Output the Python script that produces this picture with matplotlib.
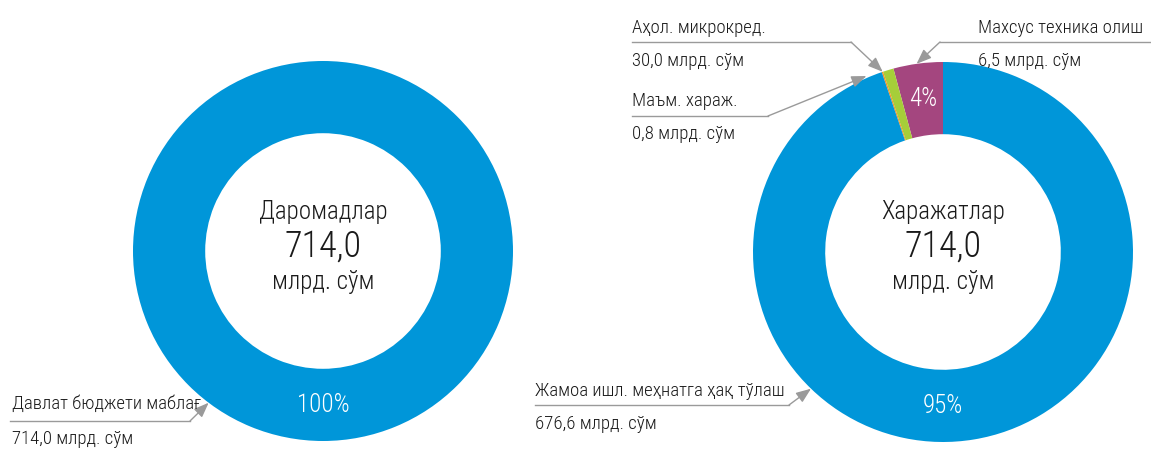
import matplotlib
matplotlib.use("Agg")
import matplotlib.pyplot as plt
from matplotlib.lines import Line2D
import numpy as np

plt.rcParams['font.family'] = ['Roboto Condensed', 'Open Sans Condensed', 'DejaVu Sans']
plt.rcParams['font.stretch'] = 'condensed'
plt.rcParams['font.weight'] = 'light'

# --- data -------------------------------------------------------------
income_title = "Даромадлар"
income_total = 714.0
income_names = ["Давлат бюджети маблағ"]
income_values = [714.0]

expense_title = "Харажатлар"
expense_total = 714.0
# wedge order (counter-clockwise from the top)
expense_names = ["Аҳол. микрокред.", "Махсус техника олиш", "Маъм. хараж.",
                 "Жамоа ишл. меҳнатга ҳақ тўлаш"]
expense_values = [30.0, 6.5, 0.8, 676.6]

unit = "млрд. сўм"

# --- style ------------------------------------------------------------
BLUE = "#0096D9"
PURPLE = "#A4467F"
GREEN = "#A6CE39"
ORANGE = "#F7941D"
GRAY = "#9A9A9A"
TEXT = "#1a1a1a"
expense_colors = [PURPLE, GREEN, ORANGE, BLUE]

W, H = 1151, 450
fig = plt.figure(figsize=(W / 100, H / 100), dpi=100)
fig.patch.set_facecolor("white")


def fx(x):
    return x / W


def fy(y):
    return 1 - y / H


def fmt(v):
    return f"{v:.1f}".replace(".", ",")


def donut(cx, cy, r, values, colors):
    ax = fig.add_axes([(cx - r) / W, (H - cy - r) / H, 2 * r / W, 2 * r / H])
    ax.pie(values, colors=colors, startangle=90, counterclock=True, radius=1,
           wedgeprops=dict(width=0.38, edgecolor="none", linewidth=0))
    ax.set_xlim(-1, 1)
    ax.set_ylim(-1, 1)
    ax.axis("off")
    return ax


def center_text(cx, title, total):
    fig.text(fx(cx), fy(219), title, ha="center", va="baseline", fontsize=18, color=TEXT)
    fig.text(fx(cx), fy(257), fmt(total), ha="center", va="baseline", fontsize=26, color=TEXT)
    fig.text(fx(cx), fy(289), unit, ha="center", va="baseline", fontsize=18, color=TEXT)


def pct_label(ax, angle_deg, text, radius=0.81):
    a = np.deg2rad(angle_deg)
    ax.text(radius * np.cos(a), radius * np.sin(a), text, ha="center", va="center",
            fontsize=18, color="white")


def callout(ax, name, value, tx, base1, base2, line_x0, line_x1, line_y, elbow_x, tip_angle,
            tip_r=1.0):
    fig.text(fx(tx), fy(base1), name, ha="left", va="baseline", fontsize=13.5, color=TEXT)
    fig.text(fx(tx), fy(base2), f"{fmt(value)} {unit}", ha="left", va="baseline",
             fontsize=13.5, color=TEXT)
    fig.add_artist(Line2D([fx(line_x0), fx(line_x1)], [fy(line_y), fy(line_y)],
                          color=GRAY, lw=1.0, transform=fig.transFigure))
    a = np.deg2rad(tip_angle)
    ax.annotate("", xy=(tip_r * np.cos(a), tip_r * np.sin(a)), xycoords="data",
                xytext=(fx(elbow_x), fy(line_y)), textcoords="figure fraction",
                arrowprops=dict(arrowstyle="-|>,head_length=0.9,head_width=0.35",
                                color=GRAY, lw=1.0, shrinkA=0, shrinkB=0),
                annotation_clip=False)


# --- left donut: income -------------------------------------------------
axL = donut(323, 251, 190, income_values, [BLUE])
center_text(323, income_title, income_total)
pct_label(axL, 270, f"{income_values[0] / income_total * 100:.0f}%")
callout(axL, income_names[0], income_values[0], 12, 409, 444,
        10, 190, 421, 190, 233)

# --- right donut: expenses ----------------------------------------------
axR = donut(943, 252, 190, expense_values, expense_colors)
center_text(943, expense_title, expense_total)
pct_label(axR, 270, f"{expense_values[3] / expense_total * 100:.0f}%")
purple_mid = 90 + expense_values[0] / expense_total * 360 / 2
pct_label(axR, purple_mid, f"{expense_values[0] / expense_total * 100:.0f}%")

# Аҳол. микрокред.
callout(axR, expense_names[0], expense_values[0], 632, 33, 66,
        632, 851, 42, 851, 108.5)
# Махсус техника олиш
callout(axR, expense_names[1], expense_values[1], 978, 33, 66,
        940, 1151, 42, 940, 98)
# Маъм. хараж.
callout(axR, expense_names[2], expense_values[2], 632, 106, 139,
        632, 768, 116, 768, 113.5, 1.01)
# Жамоа ишл. меҳнатга ҳақ тўлаш
callout(axR, expense_names[3], expense_values[3], 535, 396, 429,
        535, 789, 405, 789, 226)

fig.savefig("out.png", dpi=100, facecolor="white")
